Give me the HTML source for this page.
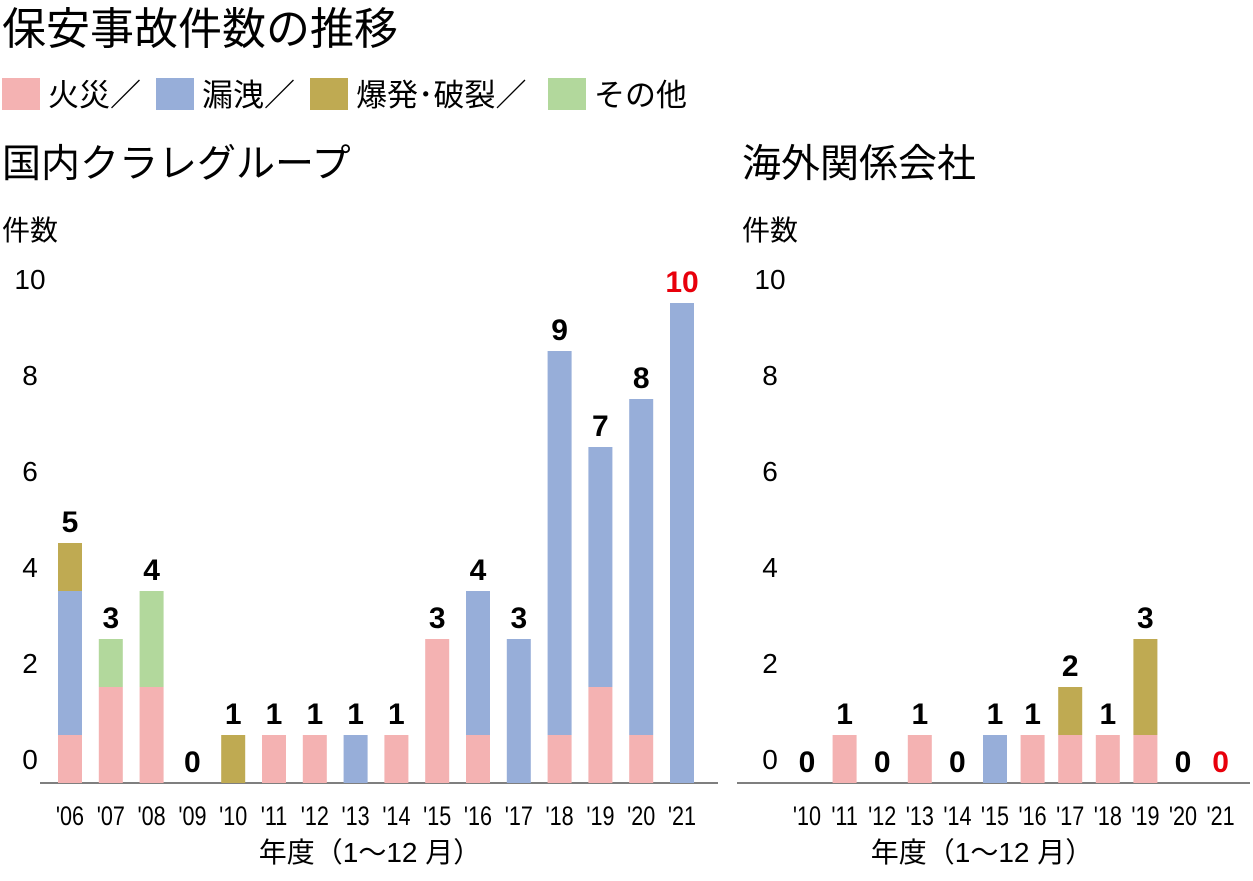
<!DOCTYPE html>
<html><head><meta charset="utf-8">
<style>
body{margin:0;background:#fff;width:1253px;height:876px;overflow:hidden;font-family:"Liberation Sans","Noto Sans CJK JP",sans-serif;}
svg text{font-family:"Liberation Sans","Noto Sans CJK JP",sans-serif;}
</style></head><body>
<svg id="c" width="1253" height="876">
<text x="2" y="44" font-size="44">保安事故件数の推移</text>
<g font-size="31">
<rect x="2" y="78" width="38" height="32" fill="#f4b2b2"/>
<text x="48" y="106">火災／</text>
<rect x="156" y="78" width="38" height="32" fill="#97aed9"/>
<text x="202" y="106">漏洩／</text>
<rect x="310" y="78" width="38" height="32" fill="#bfaa52"/>
<text x="356" y="106">爆発･破裂／</text>
<rect x="548" y="78" width="38" height="32" fill="#b2d89c"/>
<text x="594" y="106">その他</text>
</g>
<text x="2" y="177" font-size="39">国内クラレグループ</text>
<text x="742" y="177" font-size="39">海外関係会社</text>
<text x="2" y="240" font-size="28">件数</text>
<text x="742" y="240" font-size="28">件数</text>
<text x="370" y="862" font-size="28" text-anchor="middle">年度（1～12 月）</text>
<text x="982" y="862" font-size="28" text-anchor="middle">年度（1～12 月）</text>
</svg>
<script>
const yTicks=[0,2,4,6,8,10];
const leftYears=["'06","'07","'08","'09","'10","'11","'12","'13","'14","'15","'16","'17","'18","'19","'20","'21"];
const leftFire=[1,2,2,0,0,1,1,0,1,3,1,0,1,2,1,0];
const leftLeak=[3,0,0,0,0,0,0,1,0,0,3,3,8,5,7,10];
const leftExpl=[1,0,0,0,1,0,0,0,0,0,0,0,0,0,0,0];
const leftOther=[0,1,2,0,0,0,0,0,0,0,0,0,0,0,0,0];
const rightYears=["'10","'11","'12","'13","'14","'15","'16","'17","'18","'19","'20","'21"];
const rightFire=[0,1,0,1,0,0,1,1,1,1,0,0];
const rightLeak=[0,0,0,0,0,1,0,0,0,0,0,0];
const rightExpl=[0,0,0,0,0,0,0,1,0,2,0,0];
const rightOther=[0,0,0,0,0,0,0,0,0,0,0,0];
const colors=["#f4b2b2","#97aed9","#bfaa52","#b2d89c"];
const names=["fire","leak","explosion","other"];
const svg=document.getElementById('c');
const NS="http://www.w3.org/2000/svg";
const base=783,unit=48;
function y(v){return base-v*unit;}
function mk(t,a,txt){const e=document.createElementNS(NS,t);for(const k in a)e.setAttribute(k,a[k]);if(txt!==undefined)e.textContent=txt;svg.appendChild(e);return e;}
function panel(p,years,series,x0,step,axL,axR,tickX,lastRed){
  const ax=mk('line',{x1:axL,x2:axR,y1:base,y2:base,stroke:'#555','stroke-width':1.5});
  
  
  yTicks.forEach(t=>{const e=mk('text',{x:tickX,y:y(t)-24+10,'font-size':28,'text-anchor':'middle'},String(t));
    
    });
  years.forEach((yr,i)=>{
    const cx=x0+i*step;let acc=0;
    series.forEach((s,k)=>{const v=s[i];if(v>0){
      const r=mk('rect',{x:cx-12,y:y(acc+v),width:24,height:v*unit,fill:colors[k]});
      
      
      acc+=v;}});
    const tl=mk('text',{x:cx,y:y(acc)-11,'font-size':30,'font-weight':'bold','text-anchor':'middle',fill:(lastRed&&i===years.length-1)?'#e8000b':'#000'},String(acc));
    
    
    const xl=mk('text',{x:cx/0.8,y:825,'font-size':27,'text-anchor':'middle',transform:'scale(0.8,1)'},yr);
    
    
  });
}
panel('left',leftYears,[leftFire,leftLeak,leftExpl,leftOther],70,40.8,40,718,30,true);
panel('right',rightYears,[rightFire,rightLeak,rightExpl,rightOther],807,37.6,737,1250,770,true);
</script>
</body></html>
